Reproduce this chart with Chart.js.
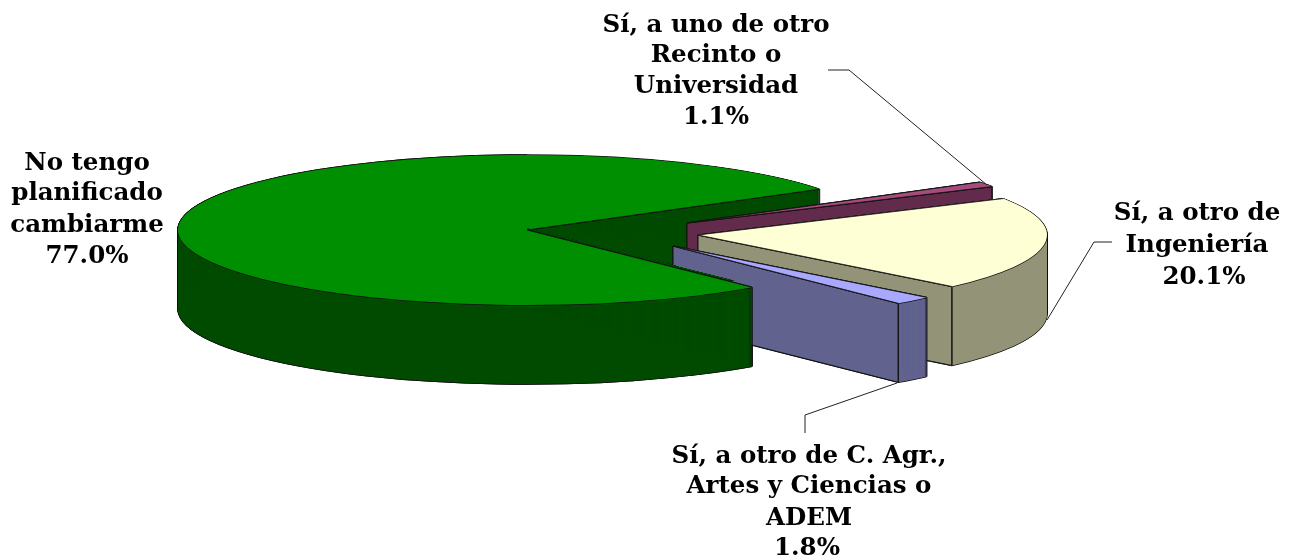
<!DOCTYPE html>
<html>
<head>
<meta charset="utf-8">
<style>html,body{margin:0;padding:0;background:#fff}canvas{display:block}</style>
<script src="https://cdn.jsdelivr.net/npm/chart.js@4/dist/chart.umd.min.js"></script>
</head>
<body>
<canvas id="c" width="1298" height="559"></canvas>
<script>
const categories = ["No tengo planificado cambiarme", "Sí, a uno de otro Recinto o Universidad", "Sí, a otro de Ingeniería", "Sí, a otro de C. Agr., Artes y Ciencias o ADEM"];
const percentages = [77.0, 1.1, 20.1, 1.8];
const labelLines = [
  ["No tengo", "planificado", "cambiarme"],
  ["Sí, a uno de otro", "Recinto o", "Universidad"],
  ["Sí, a otro de", "Ingeniería"],
  ["Sí, a otro de C. Agr.,", "Artes y Ciencias o", "ADEM"]
];
const topColors = ["#008f00", "#a64b7e", "#ffffd6", "#a8a8ff"];
const wallColors = ["#004b00", "#632b4b", "#939378", "#62628f"];

const squash = 0.215, depth = 79;
const explode = [[0, 0], [160, -7], [171, 5], [146, 16]];
const labelBox = [
  {x: 87, ys: [170, 200, 232, 263], px: 87},
  {x: 716, ys: [32, 62, 93, 124], px: 716},
  {x: 1197, ys: [220, 252, 284], px: 1204},
  {x: 809, ys: [463, 493, 525, 555], px: 807}
];
const leaders = [
  [[828, 70], [849, 70], [987, 185]],
  [[1047, 320], [1094, 242], [1112, 242]],
  [[805, 433], [805, 415], [897, 383]]
];
const labelFont = 'bold 24.5px "DejaVu Serif"';
const edge = '#111';

function opts(color) {
  return {backgroundColor: color, borderColor: color, borderWidth: 0, offset: 0, spacing: 0, circular: true,
    borderRadius: 0, borderJoinStyle: 'round', borderDash: [], borderDashOffset: 0, borderAlign: 'center'};
}
function paint(ctx, arc, color, i, dx, dy) {
  const saved = arc.options;
  arc.options = opts(color);
  ctx.save();
  ctx.translate(arc.x + explode[i][0] + dx, arc.y + explode[i][1] + dy);
  ctx.scale(1, squash);
  ctx.translate(-arc.x, -arc.y);
  arc.draw(ctx);
  ctx.restore();
  arc.options = saved;
}
function rim(arc, i, angle) {
  return [arc.x + explode[i][0] + Math.cos(angle) * arc.outerRadius,
          arc.y + explode[i][1] + Math.sin(angle) * arc.outerRadius * squash];
}
function face(ctx, apex, p, fill, outline) {
  ctx.beginPath();
  ctx.moveTo(apex[0], apex[1]);
  ctx.lineTo(p[0], p[1]);
  ctx.lineTo(p[0], p[1] + depth);
  ctx.lineTo(apex[0], apex[1] + depth);
  ctx.closePath();
  ctx.fillStyle = fill;
  ctx.fill();
  if (outline) { ctx.strokeStyle = edge; ctx.lineWidth = 1; ctx.stroke(); }
}
function slice(ctx, arc, i) {
  const e = 0.7;
  const apex = [arc.x + explode[i][0], arc.y + explode[i][1]];
  const ends = [rim(arc, i, arc.startAngle), rim(arc, i, arc.endAngle)];
  if (i > 0) face(ctx, apex, ends[0], wallColors[i], true);
  for (let d = 0; d <= depth; d++) {
    paint(ctx, arc, edge, i, -e, d);
    paint(ctx, arc, edge, i, e, d);
  }
  paint(ctx, arc, edge, i, 0, depth + e);
  for (let d = 0; d <= depth; d++) paint(ctx, arc, wallColors[i], i, 0, d);
  if (i > 0) face(ctx, apex, ends[1], wallColors[i], true);
  ctx.save();
  ctx.lineWidth = 1;
  ctx.strokeStyle = edge;
  (i > 0 ? [ends[1]] : ends).forEach(p => {
    ctx.beginPath();
    ctx.moveTo(p[0], p[1]);
    ctx.lineTo(p[0], p[1] + depth);
    ctx.stroke();
  });
  ctx.restore();
  [[-e, 0], [e, 0], [0, -e], [0, e]].forEach(o => paint(ctx, arc, edge, i, o[0], o[1]));
  paint(ctx, arc, topColors[i], i, 0, 0);
  ctx.save();
  ctx.lineWidth = 0.8;
  ctx.strokeStyle = edge;
  ctx.beginPath();
  ctx.moveTo(ends[0][0], ends[0][1]);
  ctx.lineTo(apex[0], apex[1]);
  ctx.lineTo(ends[1][0], ends[1][1]);
  ctx.stroke();
  ctx.restore();
}

const pie3d = {
  id: 'pie3d',
  beforeDatasetsDraw(chart) {
    const ctx = chart.ctx;
    const arcs = chart.getDatasetMeta(0).data;
    arcs.forEach((arc, i) => slice(ctx, arc, i));
    // the front of the big slice sits ahead of the exploded slices
    const g = arcs[0];
    const r = rim(g, 0, g.startAngle);
    ctx.save();
    ctx.beginPath();
    ctx.moveTo(g.x, g.y - 1.5);
    ctx.lineTo(r[0] + 1.5, r[1] - 1.5);
    ctx.lineTo(r[0] + 1.5, chart.height);
    ctx.lineTo(0, chart.height);
    ctx.lineTo(0, 0);
    ctx.lineTo(g.x, 0);
    ctx.closePath();
    ctx.clip();
    slice(ctx, g, 0);
    ctx.restore();
    return false;
  },
  afterDraw(chart) {
    const ctx = chart.ctx;
    ctx.save();
    ctx.strokeStyle = '#222';
    ctx.lineWidth = 1;
    leaders.forEach(l => {
      ctx.beginPath();
      l.forEach((p, j) => j ? ctx.lineTo(p[0], p[1]) : ctx.moveTo(p[0], p[1]));
      ctx.stroke();
    });
    ctx.fillStyle = '#000';
    ctx.font = labelFont;
    ctx.textAlign = 'center';
    ctx.textBaseline = 'alphabetic';
    labelLines.forEach((lines, i) => {
      const b = labelBox[i];
      lines.forEach((t, j) => ctx.fillText(t, b.x, b.ys[j]));
      ctx.fillText(percentages[i].toFixed(1) + '%', b.px, b.ys[lines.length]);
    });
    ctx.restore();
  }
};

new Chart(document.getElementById('c'), {
  type: 'pie',
  data: {labels: categories, datasets: [{data: percentages, backgroundColor: topColors, borderWidth: 0}]},
  options: {
    responsive: false,
    animation: false,
    radius: 349,
    rotation: 139.8,
    layout: {padding: {right: 244, bottom: 99}},
    plugins: {legend: {display: false}, tooltip: {enabled: false}}
  },
  plugins: [pie3d]
});
</script>
</body>
</html>
